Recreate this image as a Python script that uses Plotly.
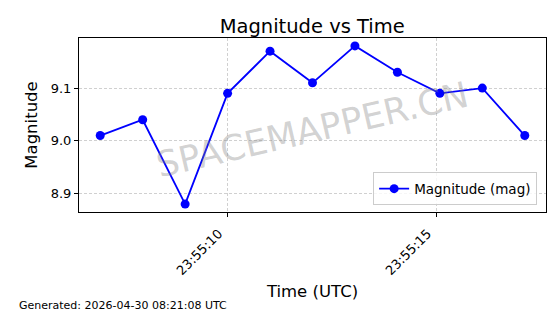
import plotly.graph_objects as go

times = ["2026-04-29 23:55:06.950", "2026-04-29 23:55:07.966", "2026-04-29 23:55:08.982",
         "2026-04-29 23:55:09.998", "2026-04-29 23:55:11.014", "2026-04-29 23:55:12.030",
         "2026-04-29 23:55:13.046", "2026-04-29 23:55:14.062", "2026-04-29 23:55:15.078",
         "2026-04-29 23:55:16.094", "2026-04-29 23:55:17.110"]
magnitude = [9.01, 9.04, 8.88, 9.09, 9.17, 9.11, 9.18, 9.13, 9.09, 9.10, 9.01]
x_ticks = ["2026-04-29 23:55:10", "2026-04-29 23:55:15"]
y_ticks = [8.9, 9.0, 9.1]

FONT = "DejaVu Sans"

fig = go.Figure()
fig.add_trace(go.Scatter(
    x=times, y=magnitude, mode="lines+markers", name="Magnitude (mag)",
    line=dict(color="#0000ff", width=1.8),
    marker=dict(color="#0000ff", size=9),
))

fig.update_layout(
    width=560, height=314,
    margin=dict(l=79, r=14, t=38, b=102),
    paper_bgcolor="white", plot_bgcolor="white",
    font=dict(family=FONT, color="black", size=13),
    title=dict(text="Magnitude vs Time", x=0.5575, xanchor="center", y=0.918, yanchor="middle",
               font=dict(size=19.5, family=FONT, color="black")),
    showlegend=True,
    legend=dict(x=0.981, y=0.038, xanchor="right", yanchor="bottom",
                bgcolor="rgba(255,255,255,0.8)", bordercolor="#cccccc", borderwidth=1,
                font=dict(size=13.5, family=FONT)),
    xaxis=dict(
        type="date",
        range=["2026-04-29 23:55:06.442", "2026-04-29 23:55:17.618"],
        tickvals=x_ticks, tickformat="%H:%M:%S", tickangle=-45,
        ticklabelshift=-9, ticklabelstandoff=4,
        showline=True, linecolor="black", linewidth=1, mirror=True,
        ticks="outside", ticklen=4, tickcolor="black",
        showgrid=True, gridcolor="#d0d0d0", griddash="3px,2px", gridwidth=0.8,
        zeroline=False,
        title=dict(text="Time (UTC)", font=dict(size=16.5, family=FONT), standoff=8),
        tickfont=dict(size=13, family=FONT),
    ),
    yaxis=dict(
        range=[8.865, 9.195],
        tickvals=y_ticks, ticktext=["8.9", "9.0", "9.1"],
        showline=True, linecolor="black", linewidth=1, mirror=True,
        ticks="outside", ticklen=4, tickcolor="black",
        showgrid=True, gridcolor="#d0d0d0", griddash="3px,2px", gridwidth=0.8,
        zeroline=False,
        title=dict(text="Magnitude", font=dict(size=16.5, family=FONT), standoff=8),
        tickfont=dict(size=13, family=FONT),
    ),
)

fig.add_annotation(
    text="SPACEMAPPER.CN", xref="paper", yref="paper", x=0.5, y=0.473,
    showarrow=False, textangle=-13,
    font=dict(size=35.5, family=FONT, color="rgba(128,128,128,0.36)"),
)

fig.add_annotation(
    text="Generated: 2026-04-30 08:21:08 UTC", xref="paper", yref="paper",
    x=(17 - 79) / 467, y=(212 - 305) / 174, xanchor="left", yanchor="middle",
    showarrow=False, font=dict(size=11, family=FONT, color="black"),
)

fig.write_html("out.html")
